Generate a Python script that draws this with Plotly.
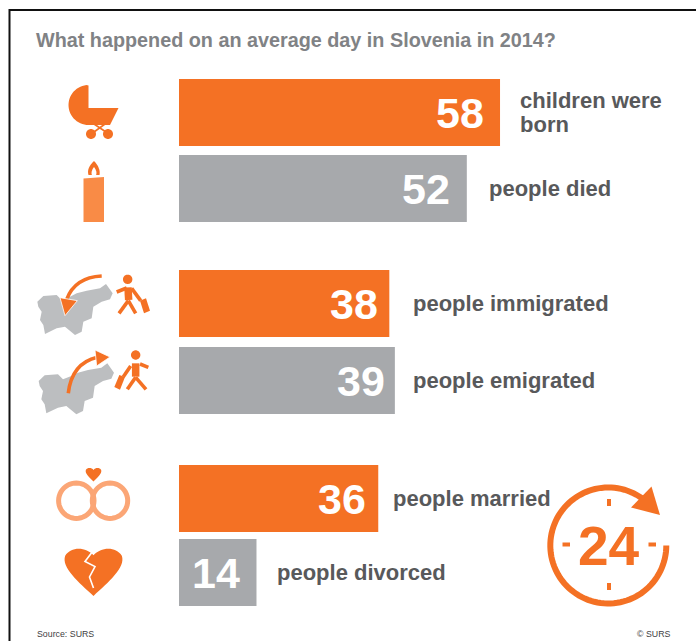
import math, re
import plotly.graph_objects as go

# ---- data ----
values = [58, 52, 38, 39, 36, 14]
labels = ["children were<br>born", "people died", "people immigrated",
          "people emigrated", "people married", "people divorced"]
title = "What happened on an average day in Slovenia in 2014?"
source = "Source: SURS"
copyright_text = "© SURS"
clock_text = "24"

# ---- layout ----
W, H = 696, 641
ORANGE, GREY = "#f47124", "#a7a9ac"
bar_colors = [ORANGE, GREY, ORANGE, GREY, ORANGE, GREY]
row_pos = [0, 76, 191, 268, 386, 460]     # row spacing on the band axis
label_gaps = [18, 20, 22, 16, 13, 19]
value_pads = [14, 15, 9, 8, 10, 14]
X0, PXU = 179, 5.535
Y0 = 112.5
BAR_H = 67
FONT = "Liberation Sans, Arial, sans-serif"


def P(path):
    """Convert an icon path written in picture pixels to paper fractions."""
    toks = re.findall(r"[MLCQZ]|-?\d+\.?\d*", path)
    out, is_x = [], True
    for t in toks:
        if t in "MLCQZ":
            out.append(t)
            is_x = True
        else:
            v = float(t)
            out.append(f"{v / W:.5f}" if is_x else f"{1 - v / H:.5f}")
            is_x = not is_x
    return " ".join(out)


shapes = []


def add(path, fill=None, line=None, lw=0):
    shapes.append(dict(type="path", xref="paper", yref="paper", path=P(path),
                       fillcolor=fill if fill else "rgba(0,0,0,0)",
                       line=dict(color=line if line else "rgba(0,0,0,0)", width=lw),
                       layer="above"))


def poly(pts):
    return "M " + " L ".join(f"{x:.2f} {y:.2f}" for x, y in pts) + " Z"


def openline(pts):
    return "M " + " L ".join(f"{x:.2f} {y:.2f}" for x, y in pts)


def arc_pts(cx, cy, r, a0, a1, n=48):
    return [(cx + r * math.cos(math.radians(a0 + (a1 - a0) * i / n)),
             cy + r * math.sin(math.radians(a0 + (a1 - a0) * i / n))) for i in range(n + 1)]


def circle(cx, cy, r, **kw):
    add(poly(arc_pts(cx, cy, r, 0, 360)), **kw)


def heart(x0, x1, y0, y1, fill):
    w, h = x1 - x0, y1 - y0
    cx = (x0 + x1) / 2
    dip = y0 + 0.17 * h
    add(f"M {cx} {dip} C {cx-0.12*w} {y0} {x0+0.12*w} {y0-0.02*h} {x0+0.02*w} {y0+0.18*h} "
        f"C {x0-0.05*w} {y0+0.42*h} {cx-0.25*w} {y0+0.72*h} {cx} {y1} "
        f"C {cx+0.25*w} {y0+0.72*h} {x1+0.05*w} {y0+0.42*h} {x1-0.02*w} {y0+0.18*h} "
        f"C {x1-0.12*w} {y0-0.02*h} {cx+0.12*w} {y0} {cx} {dip} Z", fill=fill)


# frame
add("M 9.5 641 L 9.5 10 L 696 10", line="#111111", lw=2)

# pram
add(poly([(88.5, 85.5)] + arc_pts(88.5, 105, 20, 270, 90, 30)[1:-1] +
         [(88.5, 125), (110, 125), (118.5, 108), (88.5, 108)]), fill=ORANGE)
add(openline([(94, 124), (106, 132)]), line=ORANGE, lw=1.6)
add(openline([(105, 124), (94, 132)]), line=ORANGE, lw=1.6)
circle(91, 134, 5, fill=ORANGE)
circle(108, 134, 5, fill=ORANGE)

# candle
add(poly([(83.5, 178.5), (104, 177), (104, 222), (83.5, 222)]), fill="#f98b46")
add("M 94 161 C 89 166 87 170 88.5 175 L 99.5 175 C 100.5 170 98 165 94 161 Z", fill=ORANGE)
add("M 94 167 C 91.5 170 91 173 92 175.5 L 96 175.5 C 97 173 96.5 170 94 167 Z", fill="#ffffff")


# Slovenia outline, from a zoomed crop (crop coords / 3 + offset)
MAP = [(52, 125), (70, 108), (110, 105), (125, 120), (150, 110), (170, 100), (200, 92),
       (240, 85), (258, 72), (278, 100), (270, 118), (245, 125), (220, 140), (215, 175),
       (190, 185), (185, 215), (165, 225), (135, 200), (110, 205), (75, 222), (70, 195),
       (60, 180), (65, 155), (55, 140)]


def Z(x, y, dx=0, dy=0):
    return (20 + (x + dx) / 3, 260 + (y + dy) / 3)


MAPG = "#bcbec0"
add(poly([Z(x, y) for x, y in MAP]), fill=MAPG)
add(poly([Z(x, y, 4, 238) for x, y in MAP]), fill=MAPG)


def ZP(pts):
    return [Z(x, y) for x, y in pts]


def person(head, limbs, torso, case):
    circle(*Z(*head), 4.7, fill=ORANGE)
    for seg in limbs:
        add(openline(ZP(seg)), line=ORANGE, lw=3.6)
    add(openline(ZP(torso)), line=ORANGE, lw=7.5)
    add(poly(ZP(case)), fill=ORANGE)


# arrow in
a, b, c = Z(245, 48), Z(165, 52), Z(140, 118)
add(f"M {a[0]:.1f} {a[1]:.1f} Q {b[0]:.1f} {b[1]:.1f} {c[0]:.1f} {c[1]:.1f}", line=ORANGE, lw=3.6)
add(poly(ZP([(120, 113), (172, 122), (135, 167)])), fill=ORANGE, line="#ffffff", lw=0.8)
person((323, 58),
       [[(290, 96), (320, 84)], [(335, 85), (362, 122)], [(325, 122), (297, 160)], [(325, 122), (347, 160)]],
       [(324, 82), (326, 120)],
       [(360, 122), (378, 115), (390, 152), (372, 160)])

# arrow out
a, b, c = Z(145, 400), Z(155, 310), Z(232, 292)
add(f"M {a[0]:.1f} {a[1]:.1f} Q {b[0]:.1f} {b[1]:.1f} {c[0]:.1f} {c[1]:.1f}", line=ORANGE, lw=3.6)
add(poly(ZP([(225, 270), (270, 291), (230, 318)])), fill=ORANGE, line="#ffffff", lw=0.8)
person((347, 285),
       [[(360, 312), (385, 322)], [(332, 318), (310, 350)], [(347, 352), (322, 388)], [(347, 352), (378, 388)]],
       [(347, 310), (347, 350)],
       [(298, 345), (315, 351), (300, 389), (283, 381)])

# rings
RING = "#fba676"
add(poly(arc_pts(76.3, 500.7, 17.7, 0, 360)), line=RING, lw=5)
add(poly(arc_pts(110, 500.7, 17.7, 0, 360)), line=RING, lw=5)
heart(85.5, 101.5, 467.5, 481.5, ORANGE)

# broken heart
heart(64, 123, 547, 596, ORANGE)
add(openline([(94.5, 549), (85, 561.5), (95, 566.5), (89.5, 577), (93.5, 588)]), line="#ffffff", lw=1.6)

# clock
add(openline(arc_pts(608.3, 545.5, 58, 0, 312, 96)), line=ORANGE, lw=6)
add(poly([(651.5, 486.5), (660, 515), (631, 507.5)]), fill=ORANGE)
for seg in [[(609, 499), (609, 506)], [(609, 583), (609, 590)], [(562.5, 544.5), (570, 544.5)], [(648.5, 544.5), (656, 544.5)]]:
    add(openline(seg), line=ORANGE, lw=4)

# ---- figure ----
fig = go.Figure(go.Bar(x=values, y=row_pos, orientation="h", width=BAR_H,
                       marker=dict(color=bar_colors, line=dict(width=0)), hoverinfo="skip"))

ann = []
LINE_STEP = 24
for v, lab, rp, gap, pad in zip(values, labels, row_pos, label_gaps, value_pads):
    ann.append(dict(x=v, y=rp, xref="x", yref="y", text=f"<b>{v}</b>", showarrow=False, xanchor="right",
                    yanchor="middle", xshift=-pad, font=dict(family=FONT, size=43, color="#ffffff")))
    parts = lab.split("<br>")
    for i, part in enumerate(parts):
        ann.append(dict(x=v, y=rp, xref="x", yref="y", text=f"<b>{part}</b>", showarrow=False,
                        xanchor="left", yanchor="middle", xshift=gap,
                        yshift=-LINE_STEP * (i - (len(parts) - 1) / 2) + 0,
                        font=dict(family=FONT, size=22, color="#58595b")))
ann.append(dict(x=609 / W, y=1 - 545.5 / H, xref="paper", yref="paper", text=f"<b>{clock_text}</b>",
                xanchor="center", yanchor="middle",
                showarrow=False, font=dict(family=FONT, size=55, color=ORANGE)))
ann.append(dict(x=35 / W, y=1 - 633.5 / H, xref="paper", yref="paper", text=source, showarrow=False,
                xanchor="left", yanchor="middle", font=dict(family=FONT, size=8.8, color="#414042")))
ann.append(dict(x=672 / W, y=1 - 633.5 / H, xref="paper", yref="paper", text=copyright_text, showarrow=False,
                xanchor="right", yanchor="middle", font=dict(family=FONT, size=8.8, color="#414042")))

fig.update_layout(
    width=W, height=H, margin=dict(l=0, r=0, t=0, b=0),
    paper_bgcolor="#ffffff", plot_bgcolor="#ffffff", showlegend=False,
    title=dict(text=f"<b>{title}</b>", x=36 / W, xanchor="left", y=1 - 40 / H, yanchor="middle",
               font=dict(family=FONT, size=19.8, color="#808285")),
    xaxis=dict(range=[-X0 / PXU, (W - X0) / PXU], visible=False, fixedrange=True),
    yaxis=dict(range=[H - Y0, -Y0], visible=False, fixedrange=True),
    shapes=shapes, annotations=ann,
)
fig.write_html("out.html", config=dict(displayModeBar=False),
               post_script="document.body.style.margin='0';document.documentElement.style.overflow='hidden';")
